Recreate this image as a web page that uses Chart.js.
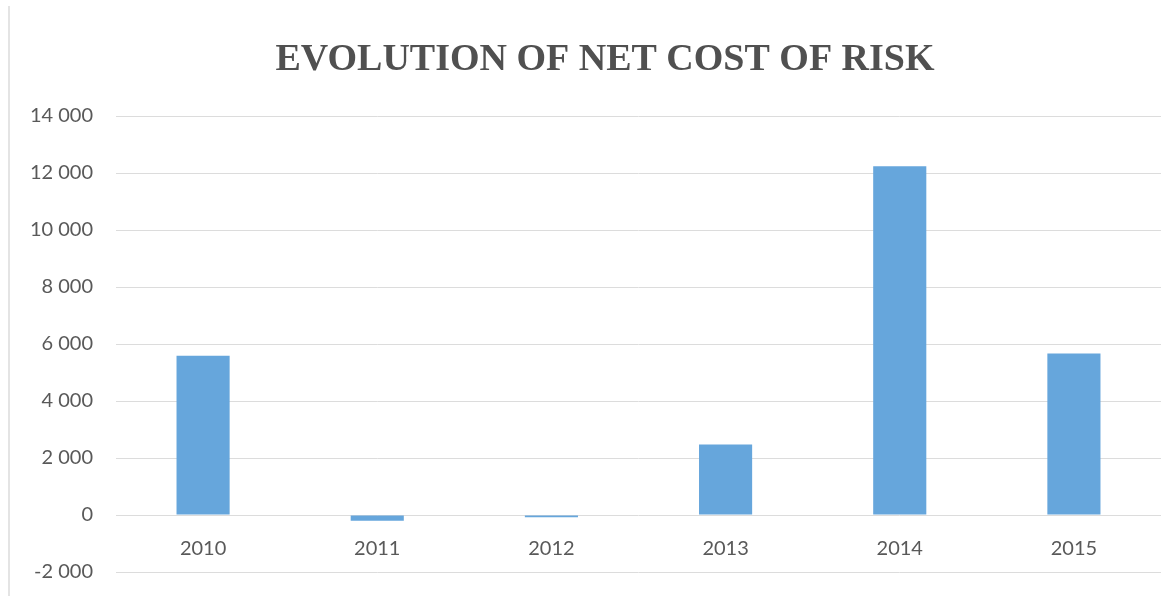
<!DOCTYPE html>
<html>
<head>
<meta charset="utf-8">
<script src="https://cdn.jsdelivr.net/npm/chart.js@4/dist/chart.umd.min.js"></script>
<style>
  html, body { margin: 0; padding: 0; background: #ffffff; }
  #wrap { position: relative; width: 1169px; height: 596px; }
  #edge { position: absolute; left: 8px; top: 6px; bottom: 0; width: 2px; background: #e4e4e4; }
  canvas { position: absolute; left: 0; top: 0; }
</style>
</head>
<body>
<div id="wrap">
  <div id="edge"></div>
  <canvas id="c" width="1169" height="596"></canvas>
</div>
<script>
const categories = ["2010", "2011", "2012", "2013", "2014", "2015"];
const netCostOfRisk = [5590, -200, -80, 2470, 12240, 5670];
const yTicks = [-2000, 0, 2000, 4000, 6000, 8000, 10000, 12000, 14000];
const chartTitle = "EVOLUTION OF NET COST OF RISK";

function fmt(v) {
  const s = Math.abs(v).toString().replace(/\B(?=(\d{3})+(?!\d))/g, " ");
  return (v < 0 ? "-" : "") + s;
}

const titlePlugin = {
  id: "offsetTitle",
  afterDraw(chart) {
    const ctx = chart.ctx;
    ctx.save();
    ctx.fillStyle = "#505050";
    ctx.font = "bold 38px 'Liberation Serif'";
    ctx.textAlign = "center";
    ctx.textBaseline = "alphabetic";
    ctx.fillText(chartTitle, 605, 70);
    ctx.restore();
  }
};

new Chart(document.getElementById("c"), {
  type: "bar",
  data: {
    labels: categories,
    datasets: [{
      data: netCostOfRisk,
      backgroundColor: "#66a6dc",
      borderWidth: 0,
      categoryPercentage: 1.0,
      barPercentage: 0.305
    }]
  },
  options: {
    responsive: false,
    animation: false,
    devicePixelRatio: 1,
    layout: { padding: { left: 10, right: 8, top: 116, bottom: 24 } },
    plugins: {
      legend: { display: false },
      tooltip: { enabled: false },
      title: { display: false }
    },
    scales: {
      x: {
        position: { y: 0 },
        afterFit: (s) => { s.height = 0; },
        grid: { display: false, drawTicks: false },
        border: { display: false },
        ticks: {
          color: "#595959",
          font: { family: "Lato", size: 20 },
          padding: 22,
          maxRotation: 0
        }
      },
      y: {
        min: -2000,
        max: 14000,
        afterFit: (s) => { s.width = 106; },
        afterBuildTicks: (s) => { s.ticks = yTicks.map(v => ({ value: v })); },
        grid: { color: "#dcdcdc", lineWidth: 1, drawTicks: true, tickLength: 23, tickColor: "rgba(0,0,0,0)" },
        border: { display: false },
        ticks: {
          color: "#595959",
          font: { family: "Lato", size: 20 },
          padding: 0,
          callback: (v) => fmt(v)
        }
      }
    }
  },
  plugins: [titlePlugin]
});
</script>
</body>
</html>
